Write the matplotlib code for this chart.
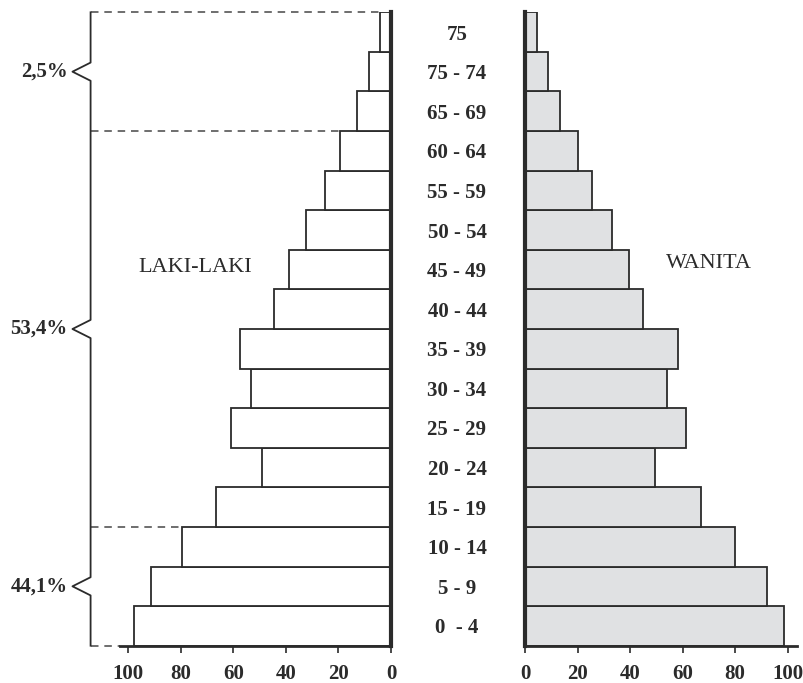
import matplotlib
matplotlib.use("Agg")
import matplotlib.pyplot as plt

# age groups, bottom to top
ages = ['0  - 4', '5 - 9', '10 - 14', '15 - 19', '20 - 24', '25 - 29', '30 - 34',
        '35 - 39', '40 - 44', '45 - 49', '50 - 54', '55 - 59', '60 - 64',
        '65 - 69', '75 - 74', '75']
male = [98, 91.5, 79.5, 66.5, 49, 61, 53.5, 57.5, 44.5, 39, 32.4, 25, 19.5, 13, 8.5, 4.2]
female = [98.5, 92, 80, 67, 49.5, 61.5, 54, 58.2, 45, 39.5, 33, 25.5, 20, 13.3, 8.9, 4.6]
xticks = [0, 20, 40, 60, 80, 100]

# brace groups (bar index boundaries) and their share labels
group_edges = [0, 3, 13, 16]
group_labels = ['44,1%', '53,4%', '2,5%']

ink = '#2b2b2b'
serif = ['Liberation Serif', 'DejaVu Serif']

fig = plt.figure(figsize=(8.04, 6.83), dpi=100)
ax_l = fig.add_axes([120 / 804, 37.3 / 683, 271 / 804, 633.4 / 683])
ax_r = fig.add_axes([525 / 804, 37.3 / 683, 272 / 804, 633.4 / 683])

y = list(range(len(ages)))
ax_l.barh(y, male, height=1.0, color='white', edgecolor=ink, linewidth=1.3, zorder=2)
ax_r.barh(y, female, height=1.0, color='#e0e1e3', edgecolor=ink, linewidth=1.3, zorder=2)

ax_l.set_xlim(103.2, 0)
ax_r.set_xlim(0, 103.6)
for ax in (ax_l, ax_r):
    ax.set_ylim(-0.5, len(ages) - 0.5)
    ax.set_xticks(xticks)
    ax.set_xticklabels([str(t) for t in xticks], fontfamily=serif,
                       fontweight='bold', fontsize=15, color=ink)
    ax.tick_params(axis='x', direction='out', length=5, width=1.2, color=ink, pad=8)
    ax.spines['top'].set_visible(False)
    ax.spines['bottom'].set_linewidth(2)
    ax.spines['bottom'].set_color(ink)
    ax.spines['bottom'].set_zorder(3)

ax_l.spines['left'].set_visible(False)
ax_l.spines['right'].set_linewidth(3)
ax_l.spines['right'].set_color(ink)
ax_l.spines['right'].set_zorder(3)
ax_l.set_yticks([])

ax_r.spines['right'].set_visible(False)
ax_r.spines['left'].set_linewidth(3)
ax_r.spines['left'].set_color(ink)
ax_r.spines['left'].set_zorder(3)
ax_r.set_yticks(y)
ax_r.set_yticklabels(ages, fontfamily=serif, fontweight='bold', fontsize=15,
                     color=ink, ha='center')
ax_r.tick_params(axis='y', length=0, pad=49)

# side titles, placed in pixel space (origin bottom-left)
fig.text(195 / 804, 1 - 267 / 683, 'LAKI-LAKI', fontfamily=serif, fontsize=16,
         color=ink, ha='center', va='center')
fig.text(709 / 804, 1 - 263 / 683, 'WANITA', fontfamily=serif, fontsize=16,
         color=ink, ha='center', va='center')

# brace with notches on the left of the male side
x_line, x_tip, h = 114.4, 121.3, 0.23
bx, by = [x_line], [group_edges[-1] - 0.5]
for i in range(len(group_labels) - 1, -1, -1):
    mid = (group_edges[i] + group_edges[i + 1]) / 2 - 0.5
    bx += [x_line, x_tip, x_line]
    by += [mid + h, mid, mid - h]
    ax_l.text(x_tip + 1.8, mid, group_labels[i], fontfamily=serif, fontweight='bold',
              fontsize=15, color=ink, ha='right', va='center', clip_on=False)
bx.append(x_line)
by.append(group_edges[0] - 0.5)
ax_l.plot(bx, by, color=ink, linewidth=1.3, clip_on=False, zorder=4)

# dashed group boundaries
for b in group_edges:
    if b == 0:
        end = ax_l.get_xlim()[0]
    elif b == len(ages):
        end = male[-1]
    else:
        end = max(male[b - 1], male[b])
    ax_l.plot([x_line, end], [b - 0.5, b - 0.5], color='#555555', linewidth=1.2,
              dashes=(4.5, 3.5), clip_on=False, zorder=1)

fig.savefig('out.png', dpi=100)
